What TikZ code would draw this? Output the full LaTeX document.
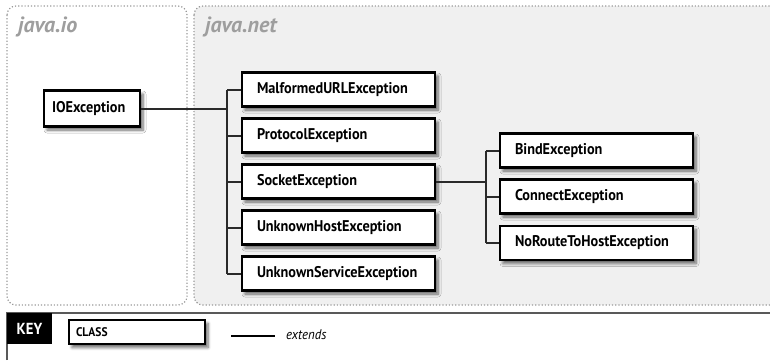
\documentclass[tikz,border=0pt]{standalone}
\usepackage{fontspec}
\usetikzlibrary{shadows.blur}
\newfontfamily\cf[FakeStretch=0.92]{PT Sans}
\newfontfamily\lf{PT Sans}
\definecolor{pkgline}{HTML}{9A9A9A}
\definecolor{pkgfill}{HTML}{F0F0F0}
\definecolor{conn}{HTML}{2A2A2A}
\tikzset{
  clsbox/.style={draw=black, line width=2.2pt, fill=white, rectangle, inner xsep=15pt, inner ysep=0pt,
    minimum height=34pt, text width=163pt, align=left, font=\cf\bfseries\fontsize{15.5}{17}\selectfont,
    blur shadow={shadow xshift=3pt, shadow yshift=-3.5pt, shadow blur radius=3pt, shadow blur steps=6, shadow opacity=60}},
  pkg/.style={draw=pkgline, dotted, line width=1.2pt, rounded corners=9pt},
  pkglabel/.style={text=black!38, font=\lf\bfseries\itshape\fontsize{22}{24}\selectfont, anchor=base west, inner sep=0pt},
  link/.style={draw=conn, line width=2pt},
}
\begin{document}
\begin{tikzpicture}[x=1pt,y=-1pt]
\useasboundingbox (0,0) rectangle (770,360);
\begin{scope}
\clip (0,0) rectangle (770,360);
% packages
\draw[pkg, fill=white] (7,6) rectangle (187,305);
\draw[pkg, fill=pkgfill] (194,6) rectangle (790,305);
\end{scope}
\node[pkglabel] (lio) at (18,32) {java.io};
\node[pkglabel] (lnet) at (205,32) {java.net};
% classes
\node[clsbox, text width=80pt, inner xsep=8pt, minimum height=36pt] (io) at (92,108.5) {IOException};
\node[clsbox] (mal) at (338.5,89.5) {MalformedURLException};
\node[clsbox] (pro) at (338.5,135.5) {ProtocolException};
\node[clsbox] (soc) at (338.5,181.5) {SocketException};
\node[clsbox] (uho) at (338.5,227.5) {UnknownHostException};
\node[clsbox] (use) at (338.5,273.5) {UnknownServiceException};
\node[clsbox] (bin) at (596.5,150.5) {BindException};
\node[clsbox] (con) at (596.5,196.5) {ConnectException};
\node[clsbox] (nor) at (596.5,243) {NoRouteToHostException};
% connectors
\coordinate (t1) at (227,0);
\coordinate (t2) at (486,0);
\draw[link] (io.east) -- (t1 |- io.east);
\draw[link] (t1 |- mal.west) -- (t1 |- use.west);
\foreach \n in {mal,pro,soc,uho,use} \draw[link] (t1 |- \n.west) -- (\n.west);
\draw[link] (soc.east) -- (t2 |- soc.east);
\draw[link] (t2 |- bin.west) -- (t2 |- nor.west);
\foreach \n in {bin,con,nor} \draw[link] (t2 |- \n.west) -- (\n.west);
% key
\draw[draw=black!65, line width=1.4pt] (7,360) -- (7,313) -- (770,313);
\node[fill=black, text=white, minimum width=45pt, minimum height=31pt, inner sep=0pt,
  font=\cf\bfseries\fontsize{16}{18}\selectfont] (key) at (29.5,328.5) {KEY};
\node[clsbox, text width=122pt, inner xsep=7pt, minimum height=24pt,
  font=\cf\bfseries\fontsize{12.5}{14}\selectfont] (cls) at (137,332) {CLASS};
\coordinate (e1) at (231,336);
\coordinate (e2) at (275,336);
\draw[link, draw=black] (e1) -- (e2);
\node[anchor=west, inner sep=0pt, font=\cf\itshape\fontsize{14}{16}\selectfont] (ext) at (286,335) {extends};
\end{tikzpicture}
\end{document}
